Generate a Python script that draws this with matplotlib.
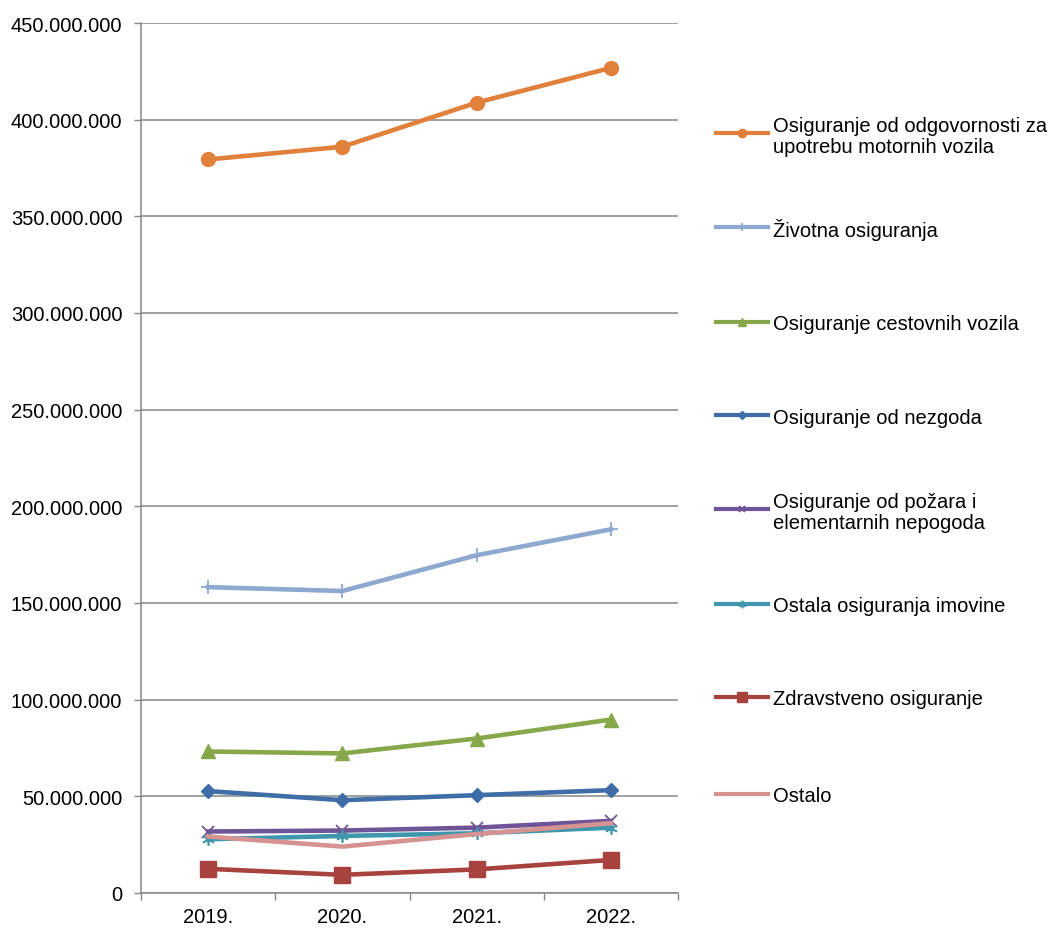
import matplotlib.pyplot as plt
from matplotlib.lines import Line2D
from matplotlib.ticker import FuncFormatter, FixedLocator

plt.rcParams['font.family'] = ['Liberation Sans', 'DejaVu Sans']

years = ["2019.", "2020.", "2021.", "2022."]

labels = [
    "Osiguranje od odgovornosti za\nupotrebu motornih vozila",
    "Životna osiguranja",
    "Osiguranje cestovnih vozila",
    "Osiguranje od nezgoda",
    "Osiguranje od požara i\nelementarnih nepogoda",
    "Ostala osiguranja imovine",
    "Zdravstveno osiguranje",
    "Ostalo",
]

odgovornost = [379.4e6, 386.0e6, 408.8e6, 426.8e6]
zivotna = [158.2e6, 156.2e6, 174.7e6, 188.1e6]
cestovna = [73.2e6, 72.2e6, 79.9e6, 89.7e6]
nezgode = [52.7e6, 48.0e6, 50.6e6, 53.2e6]
pozar = [31.8e6, 32.3e6, 33.8e6, 37.3e6]
imovina = [27.8e6, 29.5e6, 30.9e6, 33.8e6]
zdravstveno = [12.5e6, 9.4e6, 12.2e6, 17.1e6]
ostalo = [29.2e6, 24.0e6, 30.5e6, 36.1e6]

series = [odgovornost, zivotna, cestovna, nezgode, pozar, imovina, zdravstveno, ostalo]

# color, marker, markersize, marker edge width
styles = [
    ("#E0803A", "o", 10, 1),
    ("#8EA8D0", "+", 10, 1.3),
    ("#86A84B", "^", 10, 1),
    ("#3F6DA8", "D", 7.5, 1),
    ("#6F5597", "x", 8, 1.3),
    ("#3F97AE", (6, 2, 0), 9, 1.2),
    ("#A8423F", "s", 12, 1),
    ("#D69392", None, 0, 1),
]

fig = plt.figure(figsize=(10.48, 9.29), dpi=100)
ax = fig.add_axes([141 / 1048, 1 - 894 / 929, 537 / 1048, (894 - 24) / 929])

x = list(range(len(years)))
for vals, (col, mk, ms, mew) in zip(series, styles):
    ax.plot(x, vals, color=col, lw=3.3, marker=mk, markersize=ms,
            markeredgewidth=mew, markeredgecolor=col, markerfacecolor=col,
            solid_joinstyle='round')

ax.set_xlim(-0.5, 3.5)
ax.set_ylim(0, 450e6)
ax.set_yticks([i * 50e6 for i in range(10)])
ax.yaxis.set_major_formatter(FuncFormatter(lambda v, p: f"{int(round(v)):,}".replace(",", ".")))
ax.set_xticks(x)
ax.set_xticklabels(years)
ax.xaxis.set_minor_locator(FixedLocator([-0.5, 0.5, 1.5, 2.5, 3.5]))

ax.tick_params(axis='x', which='major', length=0, pad=10, labelsize=14.5)
ax.tick_params(axis='x', which='minor', length=5, width=1, color="#868686")
ax.tick_params(axis='y', length=5, width=1, color="#868686", pad=8.5, labelsize=14.5)

ax.grid(axis='y', color="#868686", lw=1.1)
ax.set_axisbelow(True)
for s in ['top', 'right']:
    ax.spines[s].set_visible(False)
for s in ['left', 'bottom']:
    ax.spines[s].set_color("#868686")
    ax.spines[s].set_linewidth(1.1)

# legend drawn Excel-style: handle aligned with the first text line
W, H = 1048, 929
first_y = [134, 228, 323, 416, 510, 605, 698, 795]
for lab, (col, mk, ms, mew), py in zip(labels, styles, first_y):
    yf = 1 - py / H
    fig.add_artist(Line2D([716 / W, 768 / W], [yf, yf], transform=fig.transFigure,
                          color=col, lw=3.0))
    if mk is not None:
        fig.add_artist(Line2D([742 / W], [yf], transform=fig.transFigure, color=col,
                              marker=mk, markersize=ms * 0.6, markeredgewidth=mew,
                              markeredgecolor=col, markerfacecolor=col))
    fig.text(773 / W, yf, lab, fontsize=14.5, va='center_baseline', ha='left',
             linespacing=1.15)

plt.savefig('out.png', dpi=100)
